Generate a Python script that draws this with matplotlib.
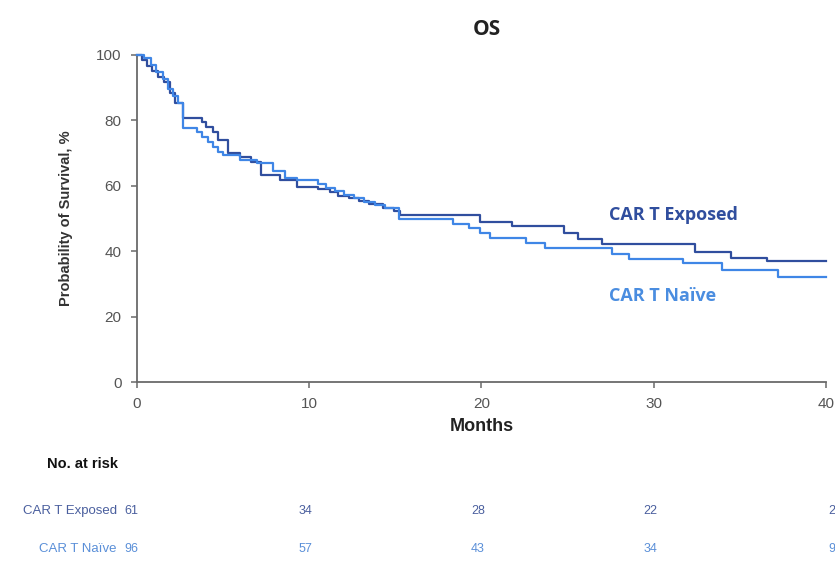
import matplotlib
matplotlib.use("Agg")
import matplotlib.pyplot as plt
import numpy as np

# Kaplan-Meier step estimates (months, % surviving)
exposed_t = [0, 0.3, 0.6, 0.9, 1.2, 1.6, 1.9, 2.2, 2.7, 3.8, 4.0, 4.4, 4.7, 5.3,
             6.0, 6.6, 7.2, 8.3, 9.3, 10.5, 11.2, 11.7, 12.3, 12.9, 13.5, 14.3,
             14.9, 15.3, 19.9, 21.8, 24.8, 25.6, 27.0, 32.4, 34.5, 36.6]
exposed_s = [100, 98.4, 96.7, 95.1, 93.4, 91.8, 88.5, 85.2, 80.7, 79.6, 78.0, 76.5, 74.0, 70.0,
             68.9, 67.2, 63.3, 61.8, 59.7, 59.0, 58.0, 57.0, 56.3, 55.3, 54.3, 53.3,
             52.3, 51.0, 49.0, 47.8, 45.7, 43.7, 42.2, 39.8, 37.9, 37.1]

naive_t = [0, 0.4, 0.8, 1.1, 1.5, 1.8, 2.1, 2.4, 2.7, 3.5, 3.8, 4.1, 4.4, 4.7, 5.0,
           6.0, 7.0, 7.9, 8.6, 9.3, 10.5, 11.0, 11.5, 12.0, 12.6, 13.2, 13.8, 14.4,
           15.2, 18.35, 19.3, 19.9, 20.5, 22.6, 23.7, 27.6, 28.6, 31.7, 34.0, 37.2]
naive_s = [100, 99.0, 96.9, 94.8, 92.7, 89.6, 87.5, 85.4, 77.7, 76.6, 75.0, 73.5, 72.0, 70.4, 69.4,
           68.0, 66.9, 64.5, 62.5, 61.8, 60.4, 59.4, 58.3, 57.3, 56.3, 55.2, 54.2, 53.1,
           50.0, 48.3, 47.0, 45.6, 44.0, 42.5, 41.0, 39.1, 37.6, 36.4, 34.3, 32.2]

risk_months = [0, 10, 20, 30, 40]
risk_exposed = ["61", "34", "28", "22", "2"]
risk_naive = ["96", "57", "43", "34", "9"]

c_exposed = "#304e9e"
c_naive = "#3f86e6"
c_tick = "#555555"
c_risk_exp = "#4a5f9e"
c_risk_nai = "#5a8fd8"

fig = plt.figure(figsize=(8.35, 5.61), dpi=100)
ax = fig.add_axes([0.164, 0.319, 0.825, 0.583])

t_max = 40
ax.step(exposed_t + [t_max], exposed_s + [exposed_s[-1]], where="post",
        color=c_exposed, lw=1.6, clip_on=False, zorder=3)
ax.step(naive_t + [t_max], naive_s + [naive_s[-1]], where="post",
        color=c_naive, lw=1.6, clip_on=False, zorder=3)

ax.set_xlim(0, 40)
ax.set_ylim(0, 100)
ax.set_xticks(range(0, 41, 10))
ax.set_yticks(range(0, 101, 20))

for side in ("top", "right"):
    ax.spines[side].set_visible(False)
for side in ("left", "bottom"):
    ax.spines[side].set_color("#6a6a6a")
    ax.spines[side].set_linewidth(1.3)
ax.tick_params(direction="out", length=4, width=1.1, color="#6a6a6a",
               labelsize=11, labelcolor=c_tick, pad=7)
for lab in ax.get_xticklabels() + ax.get_yticklabels():
    lab.set_family("Liberation Sans")

ax.set_xlabel("Months", fontsize=13, fontweight="bold", color="#222222",
              family="Liberation Sans", labelpad=5)
ax.set_ylabel("Probability of Survival, %", fontsize=10.5, fontweight="bold",
              color="#333333", family="Liberation Sans", labelpad=17)
fig.text(0.583, 0.948, "OS", ha="center", va="center", fontsize=15,
         fontweight="bold", color="#222222", family="Open Sans")

# curve labels
ax.text(27.4, 51.2, "CAR T Exposed", color=c_exposed, fontsize=13,
        fontweight="bold", family="Open Sans", va="center", ha="left")
ax.text(27.4, 26.2, "CAR T Naïve", color="#4a8de0", fontsize=13,
        fontweight="bold", family="Open Sans", va="center", ha="left")

# number-at-risk table below the axis
fig.text(0.141, 1 - 464 / 561, "No. at risk", ha="right", va="center",
         fontsize=10.5, fontweight="bold", color="#111111", family="Liberation Sans")
fig.text(0.140, 1 - 511 / 561, "CAR T Exposed", ha="right", va="center",
         fontsize=9.5, color=c_risk_exp, family="Liberation Sans")
fig.text(0.140, 1 - 549 / 561, "CAR T Naïve", ha="right", va="center",
         fontsize=9.5, color=c_risk_nai, family="Liberation Sans")

trans = ax.get_xaxis_transform()
row_y = [ax.transAxes.inverted().transform(fig.transFigure.transform((0, 1 - y / 561)))[1]
         for y in (511, 549)]
for i, m in enumerate(risk_months):
    ha = "left" if m == 40 else "center"
    xm = m + 0.15 if m == 40 else m - 0.2
    if m == 0:
        xm = -0.3
    ax.text(xm, row_y[0], risk_exposed[i], transform=trans, ha=ha, va="center",
            fontsize=9, color=c_risk_exp, family="Liberation Sans", clip_on=False)
    ax.text(xm, row_y[1], risk_naive[i], transform=trans, ha=ha, va="center",
            fontsize=9, color=c_risk_nai, family="Liberation Sans", clip_on=False)

fig.savefig("out.png", dpi=100)
